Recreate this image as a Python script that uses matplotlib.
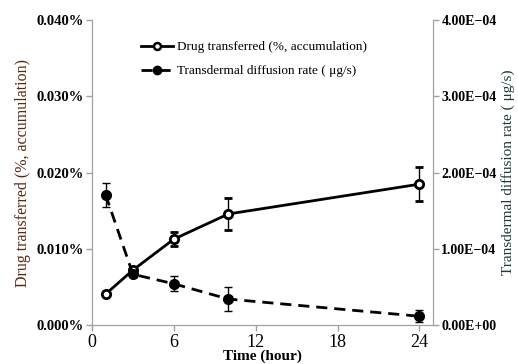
import numpy as np
import matplotlib.pyplot as plt
from matplotlib.lines import Line2D
from matplotlib.ticker import FuncFormatter

# data
hours = [1, 3, 6, 10, 24]
drug_pct = [0.0041, 0.00725, 0.0113, 0.0146, 0.0185]
drug_err = [0.0, 0.0003, 0.0009, 0.0021, 0.0022]
rate = [1.71e-4, 0.67e-4, 0.545e-4, 0.345e-4, 0.12e-4]
rate_err = [0.16e-4, 0.04e-4, 0.10e-4, 0.16e-4, 0.08e-4]

left_ticks = [0.0, 0.01, 0.02, 0.03, 0.04]
right_ticks = [0.0, 1e-4, 2e-4, 3e-4, 4e-4]
x_ticks = [0, 6, 12, 18, 24]

plt.rcParams['font.family'] = ['Liberation Serif', 'DejaVu Serif']
spine_col = '#a0a0a0'
dash = (0, (4, 2.5))

fig = plt.figure(figsize=(5.18, 3.64), dpi=100)
ax = fig.add_axes([0.1776, 0.106, 0.836 - 0.1776, 0.945 - 0.106])
ax2 = ax.twinx()

ax.errorbar(hours, drug_pct, yerr=drug_err, color='black', lw=2,
            marker='o', ms=6, mfc='white', mec='black', mew=2,
            ecolor='black', elinewidth=1, capsize=3)
ax2.errorbar(hours, rate, yerr=rate_err, color='black', lw=2, ls=dash,
             marker='o', ms=7, mfc='black', mec='black',
             ecolor='black', elinewidth=1, capsize=3)

ax.set_xlim(0, 25)
ax.set_ylim(0, 0.04)
ax2.set_ylim(0, 4e-4)
ax.set_xticks(x_ticks)
ax.set_yticks(left_ticks)
ax2.set_yticks(right_ticks)
ax.yaxis.set_major_formatter(FuncFormatter(lambda v, p: '%.3f%%' % v))
ax2.yaxis.set_major_formatter(FuncFormatter(
    lambda v, p: ('%.2E' % v).replace('-', '\u2212')))

for a in (ax, ax2):
    a.spines['top'].set_visible(False)
    for s in ('left', 'right', 'bottom'):
        a.spines[s].set_color(spine_col)
    a.tick_params(axis='both', colors=spine_col, length=4, width=1, labelcolor='black')

ax.tick_params(axis='x', labelsize=13, pad=2)
ax.tick_params(axis='y', labelsize=10.5, pad=2)
ax2.tick_params(axis='y', labelsize=10, pad=2)
for t in ax.get_yticklabels() + ax2.get_yticklabels():
    t.set_fontweight('bold')

ax.set_xlabel('Time (hour)', fontsize=11, fontweight='bold', labelpad=-1)
ax.set_ylabel('Drug transferred (%, accumulation)', fontsize=11.5,
              color='#5a2810', labelpad=4)
ax2.set_ylabel('Transdermal diffusion rate ( \u03bcg/s)', fontsize=11,
               color='#1f3a3a', labelpad=3)

handles = [Line2D([], [], color='black', lw=2, marker='o', ms=5, mfc='white', mew=1.8),
           Line2D([], [], color='black', lw=2, ls=dash, marker='o', ms=6, mfc='black')]
labels = ['Drug transferred (%, accumulation)', 'Transdermal diffusion rate ( \u03bcg/s)']
ax.legend(handles, labels, loc='upper left', bbox_to_anchor=(0.11, 0.97), frameon=False,
          fontsize=9.5, handlelength=2.4, handletextpad=0.3, labelspacing=0.9)

fig.savefig('out.png', dpi=100)
